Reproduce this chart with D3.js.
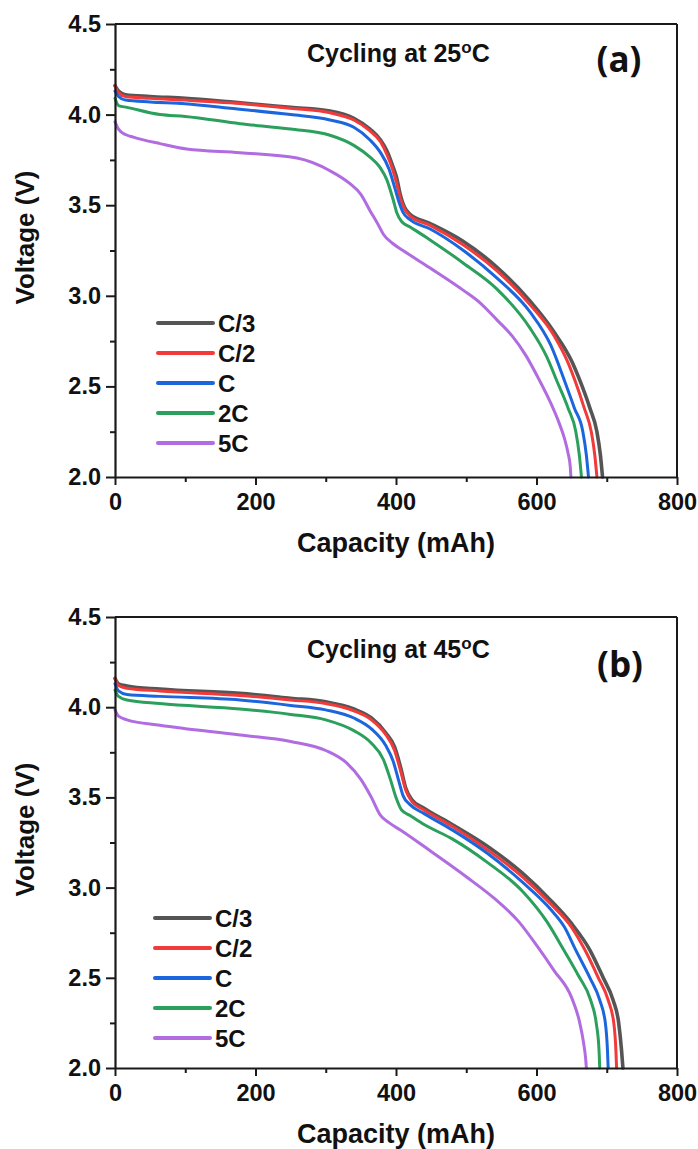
<!DOCTYPE html>
<html>
<head>
<meta charset="utf-8">
<script src="https://cdn.jsdelivr.net/npm/d3@7"></script>
<style>
  html, body { margin: 0; padding: 0; background: #fff; }
  svg { display: block; }
</style>
</head>
<body>
<svg id="chart" width="698" height="1149"></svg>
<script>
// ---------- data ----------
const seriesNames = ["C/3", "C/2", "C", "2C", "5C"];
const seriesColors = ["#555555", "#f23a3a", "#1c66dd", "#2aa05c", "#b06ce0"];

const xTicks = [0, 200, 400, 600, 800];
const yTicks = [2.0, 2.5, 3.0, 3.5, 4.0, 4.5];

// Panel (a): Cycling at 25 °C — [capacity mAh, voltage V]
const a_C3 = [[0,4.16],[5,4.13],[15,4.11],[50,4.10],[100,4.09],[164,4.07],[250,4.04],[306,4.02],[340,3.98],[363,3.92],[378,3.86],[387,3.80],[395,3.72],[401,3.65],[406,3.56],[412,3.49],[420,3.45],[448,3.40],[496,3.30],[543,3.16],[591,2.97],[625,2.80],[650,2.64],[662,2.53],[676,2.38],[686,2.25],[691,2.12],[694,2.0]];
const a_C2 = [[0,4.16],[5,4.12],[15,4.10],[50,4.09],[100,4.08],[164,4.065],[250,4.035],[306,4.01],[340,3.97],[363,3.91],[378,3.85],[387,3.78],[395,3.70],[401,3.62],[406,3.54],[412,3.48],[420,3.44],[448,3.39],[496,3.28],[543,3.14],[591,2.95],[625,2.78],[645,2.63],[655,2.53],[668,2.38],[678,2.25],[683,2.12],[686,2.0]];
const a_C  = [[0,4.13],[5,4.10],[15,4.08],[50,4.07],[100,4.06],[164,4.035],[250,4.00],[306,3.97],[340,3.93],[363,3.86],[378,3.79],[390,3.70],[398,3.60],[404,3.52],[410,3.46],[420,3.42],[448,3.37],[496,3.25],[543,3.10],[591,2.91],[620,2.73],[640,2.53],[654,2.38],[666,2.25],[671,2.12],[674,2.0]];
const a_2C = [[0,4.09],[5,4.05],[17,4.04],[64,4.00],[100,3.99],[178,3.95],[250,3.92],[306,3.886],[340,3.83],[363,3.765],[377,3.71],[387,3.64],[396,3.53],[401,3.46],[408,3.41],[420,3.38],[448,3.31],[496,3.18],[543,3.04],[591,2.82],[615,2.66],[629,2.53],[645,2.38],[656,2.25],[661,2.12],[664,2.0]];
const a_5C = [[0,3.96],[5,3.92],[15,3.89],[26,3.876],[64,3.84],[102,3.81],[178,3.79],[259,3.76],[306,3.69],[334,3.62],[350,3.56],[363,3.47],[375,3.39],[382,3.34],[395,3.29],[410,3.25],[448,3.155],[496,3.03],[520,2.96],[543,2.87],[565,2.78],[585,2.67],[602,2.55],[620,2.41],[632,2.30],[640,2.21],[645,2.13],[648,2.06],[649,2.0]];

// Panel (b): Cycling at 45 °C
const b_C3 = [[0,4.16],[5,4.13],[17,4.118],[64,4.10],[178,4.077],[250,4.05],[300,4.03],[340,3.99],[365,3.94],[385,3.86],[398,3.78],[407,3.66],[414,3.55],[422,3.49],[440,3.44],[480,3.35],[530,3.23],[580,3.08],[620,2.93],[650,2.80],[676,2.654],[695,2.50],[709,2.377],[717,2.25],[721,2.10],[723,2.0]];
const b_C2 = [[0,4.16],[5,4.12],[17,4.105],[64,4.09],[178,4.065],[250,4.04],[300,4.02],[340,3.98],[365,3.93],[385,3.85],[398,3.76],[407,3.64],[414,3.54],[422,3.48],[440,3.43],[480,3.34],[530,3.21],[580,3.06],[620,2.91],[650,2.78],[669,2.654],[688,2.50],[702,2.377],[710,2.25],[713,2.10],[714,2.0]];
const b_C  = [[0,4.13],[5,4.09],[17,4.07],[64,4.06],[178,4.04],[250,4.01],[300,3.985],[340,3.94],[365,3.88],[385,3.79],[396,3.70],[404,3.59],[410,3.51],[420,3.46],[440,3.41],[480,3.32],[530,3.19],[580,3.03],[620,2.88],[640,2.78],[655,2.66],[676,2.50],[690,2.377],[698,2.25],[701,2.10],[702,2.0]];
const b_2C = [[0,4.095],[5,4.06],[17,4.04],[64,4.02],[178,3.99],[250,3.96],[300,3.93],[340,3.87],[365,3.80],[382,3.71],[392,3.60],[400,3.50],[408,3.43],[420,3.40],[440,3.35],[480,3.27],[530,3.14],[580,2.98],[615,2.81],[638,2.66],[660,2.51],[677,2.377],[685,2.25],[689,2.10],[690,2.0]];
const b_5C = [[0,3.985],[5,3.95],[17,3.93],[64,3.90],[178,3.846],[250,3.81],[300,3.76],[330,3.69],[350,3.60],[365,3.50],[378,3.40],[390,3.36],[410,3.31],[450,3.20],[500,3.06],[540,2.94],[575,2.81],[601,2.675],[625,2.54],[650,2.39],[661,2.26],[667,2.14],[670,2.05],[671,2.0]];

const panels = [
  { top: 24, bottom: 477, title: "25", tag: "(a)", series: [a_C3, a_C2, a_C, a_2C, a_5C],
    titleY: 62, tagX: 619, tagY: 72, legX: 158, legY: 323 },
  { top: 617, bottom: 1068, title: "45", tag: "(b)", series: [b_C3, b_C2, b_C, b_2C, b_5C],
    titleY: 658, tagX: 620, tagY: 677, legX: 155, legY: 918 }
];

// ---------- drawing ----------
const svg = d3.select("#chart");
const left = 115, right = 677;
const axisColor = "#1a1a1a";
const font = "'Liberation Sans', Arial, sans-serif";

panels.forEach(p => {
  const x = d3.scaleLinear().domain([0, 800]).range([left, right]);
  const y = d3.scaleLinear().domain([2.0, 4.5]).range([p.bottom, p.top]);
  const g = svg.append("g");

  // curves
  const line = d3.line().x(d => x(d[0])).y(d => y(d[1])).curve(d3.curveMonotoneX);
  p.series.forEach((s, i) => {
    g.append("path").datum(s)
      .attr("d", line)
      .attr("fill", "none")
      .attr("stroke", seriesColors[i])
      .attr("stroke-width", i === 0 ? 3.6 : 3)
      .attr("stroke-linejoin", "round")
      .attr("stroke-linecap", "round");
  });

  // frame (top/right)
  g.append("line").attr("x1", left).attr("x2", right).attr("y1", p.top).attr("y2", p.top)
    .attr("stroke", axisColor).attr("stroke-width", 2);
  g.append("line").attr("x1", right).attr("x2", right).attr("y1", p.top).attr("y2", p.bottom)
    .attr("stroke", axisColor).attr("stroke-width", 2);

  // minor ticks
  const yMinor = g.append("g").attr("transform", `translate(${left},0)`)
    .call(d3.axisLeft(y).tickValues([2.25, 2.75, 3.25, 3.75, 4.25]).tickSize(5).tickFormat(""));
  const xMinor = g.append("g").attr("transform", `translate(0,${p.bottom})`)
    .call(d3.axisBottom(x).tickValues([100, 300, 500, 700]).tickSize(5).tickFormat(""));
  [yMinor, xMinor].forEach(ax => {
    ax.select(".domain").remove();
    ax.selectAll("line").attr("stroke", axisColor).attr("stroke-width", 2);
  });

  // major axes
  const yAx = g.append("g").attr("transform", `translate(${left},0)`)
    .call(d3.axisLeft(y).tickValues(yTicks).tickSize(9).tickSizeOuter(0).tickPadding(5).tickFormat(d3.format(".1f")));
  const xAx = g.append("g").attr("transform", `translate(0,${p.bottom})`)
    .call(d3.axisBottom(x).tickValues(xTicks).tickSize(8).tickSizeOuter(0).tickPadding(8).tickFormat(d3.format("d")));
  [yAx, xAx].forEach(ax => {
    ax.select(".domain").attr("stroke", axisColor).attr("stroke-width", 2.2);
    ax.selectAll(".tick line").attr("stroke", axisColor).attr("stroke-width", 2);
    ax.selectAll(".tick text").attr("fill", "#111").attr("font-family", font)
      .attr("font-weight", "bold").attr("font-size", 23.5);
  });

  // axis titles
  g.append("text").attr("x", (left + right) / 2).attr("y", p.bottom + 75)
    .attr("text-anchor", "middle").attr("font-family", font).attr("font-weight", "bold")
    .attr("font-size", 27).attr("fill", "#111").text("Capacity (mAh)");
  g.append("text").attr("transform", `translate(34,${(p.top + p.bottom) / 2 - 13}) rotate(-90)`)
    .attr("text-anchor", "middle").attr("font-family", font).attr("font-weight", "bold")
    .attr("font-size", 26).attr("fill", "#111").text("Voltage (V)");

  // title
  const t = g.append("text").attr("x", 307).attr("y", p.titleY)
    .attr("font-family", font).attr("font-weight", "bold").attr("font-size", 25).attr("fill", "#111");
  t.append("tspan").text("Cycling at " + p.title);
  t.append("tspan").attr("font-size", 17).attr("dy", -9).text("o");
  t.append("tspan").attr("dy", 9).text("C");

  // panel tag
  g.append("text").attr("x", p.tagX).attr("y", p.tagY).attr("text-anchor", "middle")
    .attr("font-family", "'Open Sans', Lato, sans-serif").attr("font-weight", "bold")
    .attr("font-size", 35).attr("fill", "#111").text(p.tag);

  // legend
  seriesNames.forEach((name, i) => {
    const ly = p.legY + i * 30;
    g.append("line").attr("x1", p.legX).attr("x2", p.legX + 55).attr("y1", ly).attr("y2", ly)
      .attr("stroke", seriesColors[i]).attr("stroke-width", 4).attr("stroke-linecap", "round");
    g.append("text").attr("x", p.legX + 60).attr("y", ly + 8.5)
      .attr("font-family", font).attr("font-weight", "bold").attr("font-size", 24)
      .attr("fill", "#111").text(name);
  });
});
</script>
</body>
</html>
